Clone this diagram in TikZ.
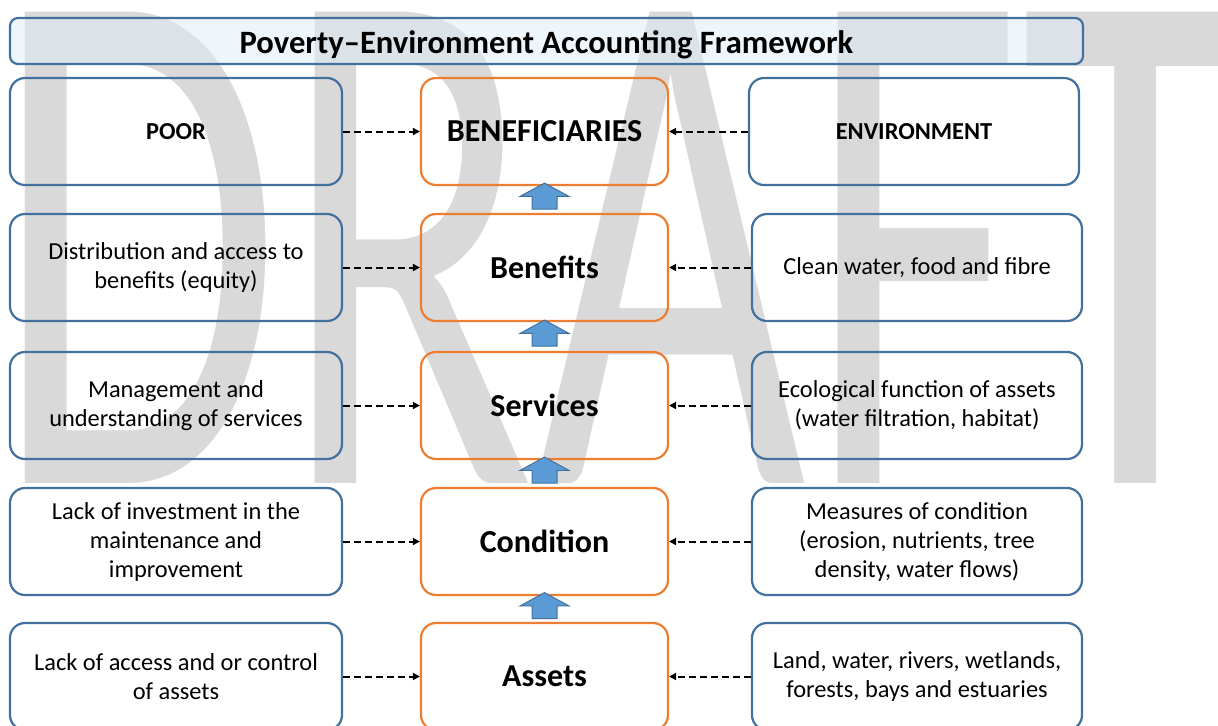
\documentclass[tikz,border=0pt]{standalone}
\usepackage{fontspec}
\setmainfont{Carlito}
\usetikzlibrary{arrows.meta,shapes.arrows}
\definecolor{bl}{RGB}{65,113,156}
\definecolor{og}{RGB}{237,125,49}
\definecolor{ab}{RGB}{91,155,213}
\definecolor{lb}{RGB}{222,235,247}
\definecolor{wm}{RGB}{217,217,217}

\begin{document}
\begin{tikzpicture}[x=0.5pt, y=-0.5pt,
  every node/.style={inner sep=0pt, align=center},
  poorbox/.style={draw=bl, rounded corners=7.5pt, line width=1.1pt, minimum width=166pt, minimum height=53.5pt, font=\fontsize{12.2}{14.5}\selectfont},
  envbox/.style={poorbox, minimum width=165pt},
  corebox/.style={draw=og, rounded corners=7.5pt, line width=1.1pt, minimum width=123.5pt, minimum height=53.5pt, font=\bfseries\fontsize{16}{19}\selectfont},
  dasharr/.style={line width=1pt, dash pattern=on 3.5pt off 2pt, -{Triangle[length=3.5pt,width=3.5pt]}},
  uparr/.style={single arrow, shape border rotate=90, draw=bl, fill=ab, line width=0.5pt, inner xsep=6pt, inner ysep=0pt, minimum height=13pt, minimum width=24pt, single arrow head extend=6pt, single arrow tip angle=123}]
\useasboundingbox (0,0) rectangle (1218,725);
% watermark
\node (wm) [anchor=base west, text=wm, yscale=1.57, font=\fontsize{234}{234}\selectfont] at (-7,483) {DRAFT};
% heading
\node (t) [draw=bl, fill=lb, fill opacity=0.5, text opacity=1, rounded corners=4pt, line width=1.1pt, minimum width=536.5pt, minimum height=23pt, font=\bfseries\fontsize{16.3}{18}\selectfont] at (546.5, 41) {\raisebox{-6.2pt}[0pt][0pt]{Poverty--Environment Accounting Framework}};
% poor side
\node (p1) [poorbox] at (176, 131.5) {\textbf{POOR}};
\node (p2) [poorbox] at (176, 267.5) {Distribution and access to\\benefits (equity)};
\node (p3) [poorbox] at (176, 405.5) {Management and\\understanding of services};
\node (p4) [poorbox] at (176, 541.5) {Lack of investment in the\\maintenance and\\improvement};
\node (p5) [poorbox] at (176, 676.5) {Lack of access and or control\\of assets};
% middle column
\node (c1) [corebox] at (544.5, 131.5) {BENEFICIARIES};
\node (c2) [corebox] at (544.5, 267.5) {Benefits};
\node (c3) [corebox] at (544.5, 405.5) {Services};
\node (c4) [corebox] at (544.5, 541.5) {Condition};
\node (c5) [corebox] at (544.5, 676.5) {Assets};
% environment side
\node (e1) [envbox] at (914, 131.5) {\textbf{ENVIRONMENT}};
\node (e2) [envbox] at (917, 267.5) {Clean water, food and fibre};
\node (e3) [envbox] at (917, 405.5) {Ecological function of assets\\(water filtration, habitat)};
\node (e4) [envbox] at (917, 541.5) {Measures of condition\\(erosion, nutrients, tree\\density, water flows)};
\node (e5) [envbox] at (917, 676.5) {Land, water, rivers, wetlands,\\forests, bays and estuaries};
% block arrows
\node (a1) [uparr] at (544.5, 199.5) {};
\node (a2) [uparr] at (544.5, 336.5) {};
\node (a3) [uparr] at (544.5, 473.5) {};
\node (a4) [uparr] at (544.5, 609) {};
% dashed links
\draw [dasharr] (p1) -- (c1);
\draw [dasharr] (p2) -- (c2);
\draw [dasharr] (p3) -- (c3);
\draw [dasharr] (p4) -- (c4);
\draw [dasharr] (p5) -- (c5);
\draw [dasharr] (e1) -- (c1);
\draw [dasharr] (e2) -- (c2);
\draw [dasharr] (e3) -- (c3);
\draw [dasharr] (e4) -- (c4);
\draw [dasharr] (e5) -- (c5);
\end{tikzpicture}
\end{document}
